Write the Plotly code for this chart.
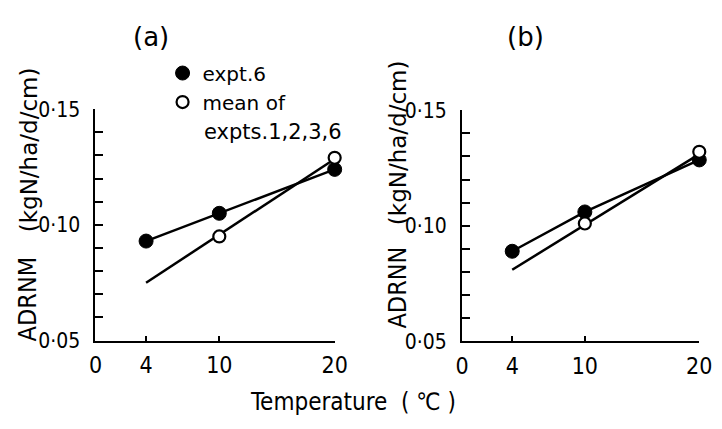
import plotly.graph_objects as go

# ---------------- data ----------------
temps = [4, 10, 20]                      # deg C
a_expt6 = [0.093, 0.105, 0.124]          # ADRNM, expt 6
a_mean_T = [10, 20]
a_mean = [0.095, 0.129]                  # mean of expts 1,2,3,6
a_fit_T = [4, 20]
a_fit = [0.075, 0.1285]                  # fitted line (mean)

b_expt6 = [0.089, 0.106, 0.1285]         # ADRNN, expt 6
b_mean_T = [10, 20]
b_mean = [0.101, 0.132]
b_fit_T = [4, 20]
b_fit = [0.081, 0.131]

x_ticks = [0, 4, 10, 20]
x_ticktext = ["0", "4", "10", "20"]
y_ticks = [0.05, 0.06, 0.07, 0.08, 0.09, 0.10, 0.11, 0.12, 0.13, 0.14, 0.15]
y_ticktext = ["0·05", "", "", "", "", "0·10", "", "", "", "", "0·15"]


def u(T):
    # reciprocal absolute temperature scale (1000/K)
    return 1000.0 / (T + 273.15)


def ul(Ts):
    return [u(t) for t in Ts]


W, H = 722, 429
FONTC = "DejaVu Sans Condensed"
FONT = "DejaVu Sans"


def px(x):
    return x / W


def py(y):
    return 1 - y / H


fig = go.Figure()

panels = [
    ("x", "y", a_expt6, a_mean_T, a_mean, a_fit_T, a_fit, True),
    ("x2", "y2", b_expt6, b_mean_T, b_mean, b_fit_T, b_fit, False),
]
for xa, ya, e6, mT, mv, fT, fv, leg in panels:
    fig.add_trace(go.Scatter(x=ul(fT), y=fv, mode="lines", xaxis=xa, yaxis=ya,
                             line=dict(color="black", width=2.5), showlegend=False,
                             cliponaxis=False, hoverinfo="skip"))
    fig.add_trace(go.Scatter(x=ul(temps), y=e6, mode="lines", xaxis=xa, yaxis=ya,
                             line=dict(color="black", width=2.5), showlegend=False,
                             cliponaxis=False, hoverinfo="skip"))
    fig.add_trace(go.Scatter(x=ul(temps), y=e6, mode="markers", xaxis=xa, yaxis=ya,
                             marker=dict(symbol="circle", size=14, color="black",
                                         line=dict(color="black", width=1)),
                             name="expt.6", showlegend=leg, cliponaxis=False))
    fig.add_trace(go.Scatter(x=ul(mT), y=mv, mode="markers", xaxis=xa, yaxis=ya,
                             marker=dict(symbol="circle", size=12, color="white",
                                         line=dict(color="black", width=2.2)),
                             name="mean of", showlegend=leg,
                             cliponaxis=False))

xcommon = dict(range=[u(0), u(20)], tickmode="array", tickvals=ul(x_ticks),
               ticktext=x_ticktext, ticks="inside", ticklen=5, tickwidth=2,
               tickcolor="black", showline=True, linecolor="black", linewidth=2,
               showgrid=False, zeroline=False, mirror=False,
               tickfont=dict(family=FONTC, size=23, color="black"),
               ticklabelstandoff=3)
ycommon = dict(range=[0.05, 0.15], tickmode="array", tickvals=y_ticks,
               ticktext=y_ticktext, ticks="inside", ticklen=8, tickwidth=2,
               tickcolor="black", showline=True, linecolor="black", linewidth=2,
               showgrid=False, zeroline=False, mirror=False,
               tickfont=dict(family=FONTC, size=21, color="black"),
               ticklabelstandoff=9)

fig.update_layout(
    width=W, height=H,
    margin=dict(l=0, r=0, t=0, b=0),
    paper_bgcolor="white", plot_bgcolor="white",
    xaxis=dict(domain=[px(91), px(337)], anchor="y", **xcommon),
    yaxis=dict(domain=[py(348), py(103)], anchor="x", **ycommon),
    xaxis2=dict(domain=[px(468), px(712)], anchor="y2", **xcommon),
    yaxis2=dict(domain=[py(349), py(104)], anchor="x2", **ycommon),
    showlegend=True,
    legend=dict(x=px(160), y=py(44), xanchor="left", yanchor="top",
                bgcolor="rgba(0,0,0,0)", valign="middle", tracegroupgap=0,
                font=dict(family=FONT, size=20, color="black")),
)

ann = [
    dict(text="(a)", x=148, y=27, size=26, angle=0, fam=FONT, xa="center"),
    dict(text="(b)", x=533, y=27, size=26, angle=0, fam=FONT, xa="center"),
    dict(text="ADRNM", x=22, y=304, size=25, angle=-90, fam=FONTC, xa="center"),
    dict(text="(kgN/ha/d/cm)", x=22, y=146, size=23, angle=-90, fam=FONT, xa="center"),
    dict(text="ADRNN", x=402, y=292, size=25, angle=-90, fam=FONTC, xa="center"),
    dict(text="(kgN/ha/d/cm)", x=402, y=138, size=23, angle=-90, fam=FONT, xa="center"),
    dict(text="Temperature  ( ℃ )", x=356, y=413, size=24, angle=0, fam=FONTC, xa="center"),
    dict(text="expts.1,2,3,6", x=201, y=127, size=21, angle=0, fam=FONT, xa="left"),
]
for a in ann:
    fig.add_annotation(text=a["text"], x=px(a["x"]), y=py(a["y"]), xref="paper",
                       yref="paper", xanchor=a["xa"], yanchor="middle", showarrow=False,
                       textangle=a["angle"],
                       font=dict(family=a["fam"], size=a["size"], color="black"))

fig.write_html("out.html")
